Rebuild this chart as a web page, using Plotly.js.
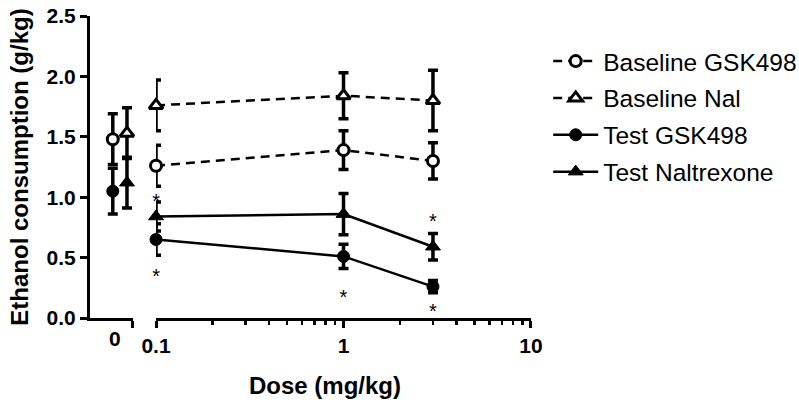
<!DOCTYPE html>
<html>
<head>
<meta charset="utf-8">
<script src="https://cdn.plot.ly/plotly-3.0.1.min.js"></script>
<style>
  html, body { margin: 0; padding: 0; background: #fff; }
  #graph { width: 799px; height: 405px; }
</style>
</head>
<body>
<div id="graph"></div>
<script>
/* datos */

// dosis (mg/kg) del tramo logaritmico
const doses = [0.1, 1, 3];

// Baseline GSK498
const baseGskZero = 1.48;
const baseGskZeroErr = 0.21;
const baseGsk = [1.26, 1.39, 1.30];
const baseGskErr = [0.17, 0.16, 0.15];

// Baseline Nal
const baseNalZero = 1.53;
const baseNalZeroErr = 0.21;
const baseNal = [1.76, 1.84, 1.80];
const baseNalErr = [0.21, 0.19, 0.25];

// Test GSK498
const testGskZero = 1.05;
const testGskZeroErr = 0.19;
const testGsk = [0.65, 0.51, 0.26];
const testGskErr = [0.13, 0.10, 0.05];

// Test Naltrexone
const testNalZero = 1.12;
const testNalZeroErr = 0.21;
const testNal = [0.84, 0.86, 0.59];
const testNalErr = [0.12, 0.17, 0.11];

// asteriscos de significancia (punto de anclaje del texto)
const starX = [0.1, 0.1, 1, 3, 3];
const starY = [0.95, 0.33, 0.16, 0.79, 0.04];

// etiquetas de los ejes
const zeroLabel = ['0'];
const logTicks = [0.1, 1, 10];
const logTickText = ['0.1', '1', '10'];
const minorTicks = [0.2, 0.3, 0.4, 0.5, 0.6, 0.7, 0.8, 0.9, 2, 3, 4, 5, 6, 7, 8, 9];

/* estetica */
const FONT = 'Liberation Sans, Arial, sans-serif';
const GSK_SHIFT = -0.05;   // desplazamiento dentro del tramo "0"
const NAL_SHIFT = 0.28;
const LEFT_RANGE = [-0.58, 0.42];

const openCircle = {symbol: 'circle', size: 11, color: '#fff', line: {color: '#000', width: 3}};
const openTri = {symbol: 'triangle-up', size: 12, color: '#fff', line: {color: '#000', width: 3}};
const fullCircle = {symbol: 'circle', size: 12, color: '#000', line: {color: '#000', width: 1}};
const fullTri = {symbol: 'triangle-up', size: 13, color: '#000', line: {color: '#000', width: 1}};

function err(arr) {
    return {type: 'data', array: arr, visible: true, color: '#000', thickness: 3.5, width: 5};
}

function series(name, y, e, marker, dash) {
    return {
        type: 'scatter', mode: 'lines+markers',
        x: doses, y: y, error_y: err(e),
        xaxis: 'x2', yaxis: 'y',
        name: name, legendgroup: name,
        marker: marker, cliponaxis: false,
        line: {color: '#000', width: 2.5, dash: dash}
    };
}

function zeroPoint(name, shift, y, e, marker) {
    return {
        type: 'scatter', mode: 'markers',
        x: [shift], y: [y], error_y: err([e]),
        xaxis: 'x', yaxis: 'y',
        name: name, legendgroup: name, showlegend: false,
        marker: marker, cliponaxis: false
    };
}

const traces = [
    zeroPoint('Baseline GSK498', GSK_SHIFT, baseGskZero, baseGskZeroErr, openCircle),
    zeroPoint('Test GSK498', GSK_SHIFT, testGskZero, testGskZeroErr, fullCircle),
    zeroPoint('Test Naltrexone', NAL_SHIFT, testNalZero, testNalZeroErr, fullTri),
    zeroPoint('Baseline Nal', NAL_SHIFT, baseNalZero, baseNalZeroErr, openTri),
    series('Baseline GSK498', baseGsk, baseGskErr, openCircle, '9px,6px'),
    series('Baseline Nal', baseNal, baseNalErr, openTri, '9px,6px'),
    series('Test GSK498', testGsk, testGskErr, fullCircle, 'solid'),
    series('Test Naltrexone', testNal, testNalErr, fullTri, 'solid'),
    {
        type: 'scatter', mode: 'text',
        x: starX, y: starY, text: starX.map(() => '*'),
        textposition: 'middle center', cliponaxis: false,
        textfont: {family: FONT, size: 20, color: '#000'},
        xaxis: 'x2', yaxis: 'y', showlegend: false, hoverinfo: 'skip'
    }
];

function tickFont(size) {
    return {family: FONT, size: size, color: '#000', weight: 'bold'};
}

const layout = {
    width: 799, height: 405,
    margin: {l: 90, r: 268, t: 16, b: 87, autoexpand: false},
    paper_bgcolor: '#fff', plot_bgcolor: '#fff',
    showlegend: true,
    font: {family: FONT, size: 21, color: '#000'},
    xaxis: {
        domain: [0, 0.0975], range: LEFT_RANGE, anchor: 'y',
        showline: true, linewidth: 3, linecolor: '#000',
        showgrid: false, zeroline: false,
        tickmode: 'array', tickvals: [0], ticktext: zeroLabel, ticks: '',
        tickfont: tickFont(21),
        minor: {tickmode: 'array', tickvals: [LEFT_RANGE[1] - 0.01], ticks: 'outside', ticklen: 7, tickwidth: 3, tickcolor: '#000'}
    },
    xaxis2: {
        domain: [0.1497, 1], type: 'log', range: [-1, 1], anchor: 'y',
        showline: true, linewidth: 3, linecolor: '#000',
        showgrid: false, zeroline: false,
        tickmode: 'array', tickvals: logTicks, ticktext: logTickText,
        ticks: 'outside', ticklen: 7, tickwidth: 3, tickcolor: '#000',
        tickfont: tickFont(21),
        minor: {tickmode: 'array', tickvals: minorTicks, ticks: 'outside', ticklen: 4, tickwidth: 2.5, tickcolor: '#000'}
    },
    yaxis: {
        range: [0, 2.5], anchor: 'x',
        showline: true, linewidth: 3, linecolor: '#000',
        showgrid: false, zeroline: false,
        dtick: 0.5, tickformat: '.1f',
        ticks: 'outside', ticklen: 7, tickwidth: 3, tickcolor: '#000',
        tickfont: tickFont(21),
        title: {text: 'Ethanol consumption (g/kg)', standoff: 12,
                font: {family: FONT, size: 24, color: '#000', weight: 'bold'}}
    },
    legend: {
        x: 1.039, xanchor: 'left', y: 0.925, yanchor: 'top',
        font: {family: FONT, size: 24.5, color: '#000'},
        itemwidth: 45,
        tracegroupgap: 2, bgcolor: 'rgba(0,0,0,0)'
    },
    annotations: [{
        text: 'Dose (mg/kg)', xref: 'paper', yref: 'paper',
        x: 0.533, y: -0.225, xanchor: 'center', yanchor: 'middle',
        showarrow: false,
        font: {family: FONT, size: 24, color: '#000', weight: 'bold'}
    }]
};

Plotly.newPlot('graph', traces, layout, {staticPlot: true});
</script>
</body>
</html>
